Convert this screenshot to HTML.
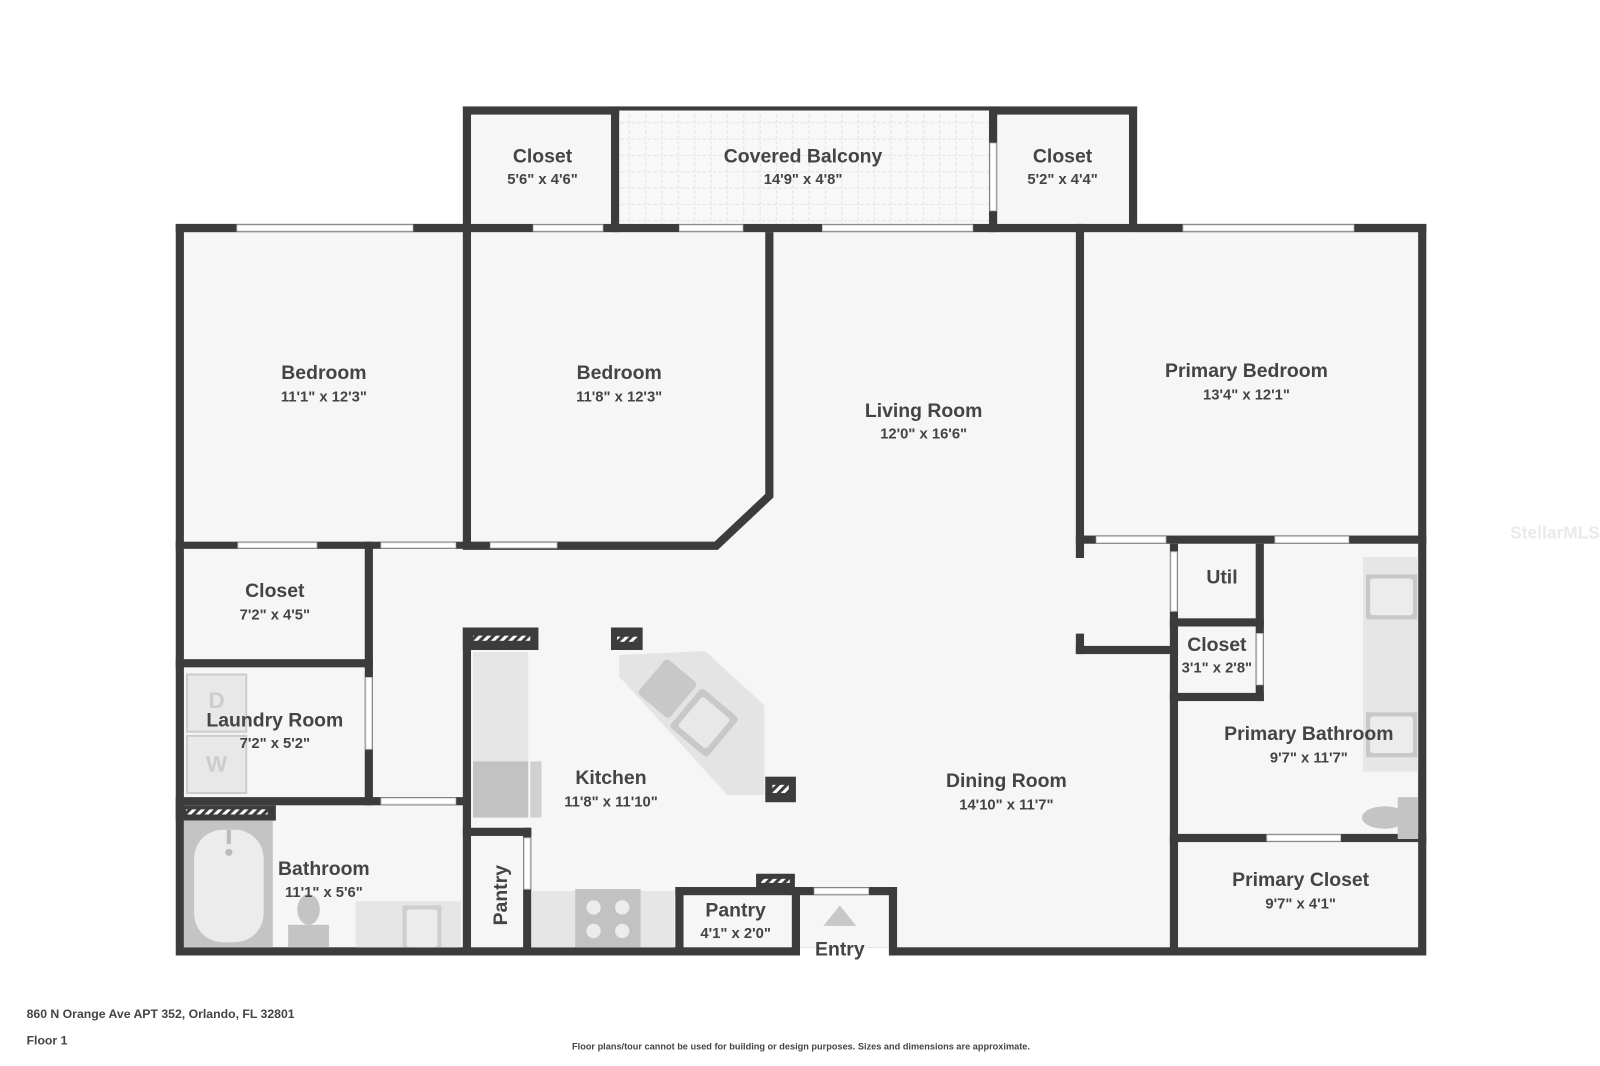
<!DOCTYPE html>
<html><head><meta charset="utf-8"><style>
html,body{margin:0;padding:0;background:#fff}
svg{display:block}
text{font-family:"Liberation Sans","DejaVu Sans",sans-serif;fill:#444;text-anchor:middle}
.l{font-size:19px;font-weight:bold}
.d{font-size:14.5px;font-weight:bold}
</style></head><body>
<svg width="1600" height="1066" viewBox="0 0 1566 1043" xmlns="http://www.w3.org/2000/svg">
<defs>
<pattern id="tile" width="16" height="16" patternUnits="userSpaceOnUse">
<rect width="16" height="16" fill="#f8f8f8"/>
<path d="M0 8H16M8 0V16" stroke="#e2e2e2" stroke-width="1" stroke-dasharray="3 2"/>
</pattern>
<pattern id="hatch" width="6" height="6" patternUnits="userSpaceOnUse" patternTransform="rotate(45)">
<rect width="6" height="6" fill="#fff"/><rect width="3" height="6" fill="#3c3c3c"/>
</pattern>
</defs>
<g fill="#3c3c3c">
<rect x="172" y="219" width="1224" height="716"/>
<rect x="453" y="104" width="660" height="123"/>
</g>
<g fill="#f6f6f6">
<rect x="180" y="227" width="1208" height="700"/>
<rect x="461" y="112" width="644" height="115"/>
</g>
<rect x="606" y="108" width="362" height="111" fill="url(#tile)"/>
<g fill="#3c3c3c">
<rect x="172" y="219" width="1224" height="8"/>
<rect x="598" y="104" width="8" height="123"/>
<rect x="968" y="104" width="8" height="123"/>
<rect x="453" y="219" width="8" height="318"/>
<rect x="172" y="530" width="289" height="7"/>
<rect x="1053" y="219" width="8" height="327"/>
<rect x="1053" y="620" width="8" height="20"/>
<rect x="1053" y="632" width="100" height="8"/>
<rect x="1053" y="524" width="343" height="8"/>
<rect x="357" y="530" width="8" height="258"/>
<rect x="172" y="645" width="193" height="8"/>
<rect x="172" y="780" width="289" height="8"/>
<rect x="172" y="788" width="98" height="15"/>
<rect x="453" y="614" width="8" height="321"/>
<rect x="453" y="614" width="74" height="22"/>
<rect x="453" y="810" width="67" height="8"/>
<rect x="512" y="810" width="8" height="125"/>
<rect x="661" y="868" width="8" height="67"/>
<rect x="661" y="868" width="217" height="8"/>
<rect x="775" y="868" width="8" height="67"/>
<rect x="870" y="868" width="8" height="67"/>
<rect x="1145" y="532" width="8" height="403"/>
<rect x="1229" y="532" width="8" height="154"/>
<rect x="1145" y="605" width="92" height="8"/>
<rect x="1145" y="678" width="92" height="8"/>
<rect x="1145" y="816" width="251" height="8"/>
<rect x="598" y="614" width="31" height="22"/>
<rect x="749" y="760" width="30" height="25"/>
<rect x="740" y="855" width="38" height="15"/>
</g>
<polyline points="753,227 753,485 701,534 453,534" fill="none" stroke="#3c3c3c" stroke-width="8"/>
<rect x="463" y="622" width="56" height="5" fill="url(#hatch)"/>
<rect x="182" y="792" width="80" height="5" fill="url(#hatch)"/>
<rect x="604" y="623" width="20" height="5" fill="url(#hatch)"/>
<rect x="756" y="768" width="16" height="8" fill="url(#hatch)"/>
<rect x="745" y="860" width="28" height="4" fill="url(#hatch)"/>
<g fill="#fff" stroke="#ccc" stroke-width="1">
<rect x="232" y="220" width="172" height="6"/>
<rect x="522" y="220" width="68" height="6"/>
<rect x="665" y="220" width="62" height="6"/>
<rect x="805" y="220" width="147" height="6"/>
<rect x="1158" y="220" width="167" height="6"/>
<rect x="969" y="140" width="6" height="66"/>
<rect x="233" y="531" width="77" height="5"/>
<rect x="373" y="531" width="73" height="5"/>
<rect x="480" y="531" width="65" height="5"/>
<rect x="1073" y="525" width="68" height="6"/>
<rect x="1248" y="525" width="72" height="6"/>
<rect x="1146" y="540" width="6" height="58"/>
<rect x="1230" y="620" width="6" height="50"/>
<rect x="1240" y="817" width="72" height="6"/>
<rect x="358" y="663" width="6" height="70"/>
<rect x="373" y="781" width="73" height="6"/>
<rect x="513" y="820" width="6" height="50"/>
<rect x="797" y="869" width="53" height="6"/>
</g>
<rect x="783" y="927" width="87" height="9" fill="#fff"/>
<rect x="463" y="638" width="54" height="107" fill="#e6e6e6"/>
<rect x="463" y="745" width="54" height="55" fill="#c2c2c2"/>
<rect x="519" y="745" width="11" height="55" fill="#d0d0d0"/>
<polygon points="606,641 690,637 748,690 748,778 712,778 606,662" fill="#e4e4e4"/>
<g transform="rotate(40 668 692)">
<rect x="625" y="665" width="40" height="45" rx="4" fill="#c8c8c8"/>
<rect x="670" y="665" width="48" height="50" rx="4" fill="#c8c8c8"/>
<rect x="676" y="671" width="36" height="38" rx="3" fill="#e8e8e8"/>
</g>
<rect x="520" y="872" width="140" height="55" fill="#e6e6e6"/>
<rect x="563" y="870" width="64" height="57" fill="#c2c2c2"/>
<g fill="#ececec"><circle cx="581" cy="888" r="7"/><circle cx="609" cy="888" r="7"/><circle cx="581" cy="911" r="7"/><circle cx="609" cy="911" r="7"/></g>
<rect x="180" y="803" width="87" height="124" fill="#c4c4c4"/>
<rect x="190" y="812" width="68" height="110" rx="28" fill="#ececec"/>
<rect x="222" y="812" width="4" height="14" fill="#bbb"/><circle cx="224" cy="834" r="3.5" fill="#bbb"/>
<ellipse cx="302" cy="890" rx="11" ry="15" fill="#c4c4c4"/>
<rect x="282" y="905" width="40" height="22" fill="#c4c4c4"/>
<rect x="348" y="882" width="103" height="45" fill="#e6e6e6"/>
<rect x="394" y="886" width="38" height="41" fill="#cfcfcf"/><rect x="398" y="890" width="30" height="37" rx="3" fill="#ececec"/>
<rect x="183" y="660" width="58" height="56" fill="#e8e8e8" stroke="#ccc" stroke-width="2"/>
<rect x="183" y="720" width="58" height="56" fill="#e8e8e8" stroke="#ccc" stroke-width="2"/>
<text x="212" y="693" style="font-size:22px;font-weight:bold;fill:#ccc">D</text>
<text x="212" y="755" style="font-size:22px;font-weight:bold;fill:#ccc">W</text>
<rect x="1334" y="545" width="54" height="210" fill="#e6e6e6"/>
<rect x="1337" y="562" width="50" height="44" fill="#c8c8c8"/><rect x="1341" y="566" width="42" height="36" rx="3" fill="#ececec"/>
<rect x="1337" y="697" width="50" height="44" fill="#c8c8c8"/><rect x="1341" y="701" width="42" height="36" rx="3" fill="#ececec"/>
<ellipse cx="1355" cy="800" rx="22" ry="11" fill="#c4c4c4"/>
<rect x="1368" y="780" width="20" height="41" fill="#c4c4c4"/>
<polygon points="822,886 806,906 838,906" fill="#c8c8c8"/>
<text class="l" x="531" y="159">Closet</text><text class="d" x="531" y="180">5'6" x 4'6"</text>
<text class="l" x="786" y="159">Covered Balcony</text><text class="d" x="786" y="180">14'9" x 4'8"</text>
<text class="l" x="1040" y="159">Closet</text><text class="d" x="1040" y="180">5'2" x 4'4"</text>
<text class="l" x="317" y="371">Bedroom</text><text class="d" x="317" y="393">11'1" x 12'3"</text>
<text class="l" x="606" y="371">Bedroom</text><text class="d" x="606" y="393">11'8" x 12'3"</text>
<text class="l" x="904" y="408">Living Room</text><text class="d" x="904" y="429">12'0" x 16'6"</text>
<text class="l" x="1220" y="369">Primary Bedroom</text><text class="d" x="1220" y="391">13'4" x 12'1"</text>
<text class="l" x="269" y="584">Closet</text><text class="d" x="269" y="606">7'2" x 4'5"</text>
<text class="l" x="269" y="711">Laundry Room</text><text class="d" x="269" y="732">7'2" x 5'2"</text>
<text class="l" x="598" y="767">Kitchen</text><text class="d" x="598" y="789">11'8" x 11'10"</text>
<text class="l" x="985" y="770">Dining Room</text><text class="d" x="985" y="792">14'10" x 11'7"</text>
<text class="l" x="1196" y="571">Util</text>
<text class="l" x="1191" y="637">Closet</text><text class="d" x="1191" y="658">3'1" x 2'8"</text>
<text class="l" x="1281" y="724">Primary Bathroom</text><text class="d" x="1281" y="746">9'7" x 11'7"</text>
<text class="l" x="317" y="856">Bathroom</text><text class="d" x="317" y="878">11'1" x 5'6"</text>
<text class="l" x="490" y="876" transform="rotate(-90 490 876)" dy="6">Pantry</text>
<text class="l" x="720" y="897">Pantry</text><text class="d" x="720" y="918">4'1" x 2'0"</text>
<text class="l" x="822" y="935">Entry</text>
<text class="l" x="1273" y="867">Primary Closet</text><text class="d" x="1273" y="889">9'7" x 4'1"</text>
<text x="1522" y="527" style="font-size:17px;font-weight:bold;fill:#eaeaea">StellarMLS</text>
<text x="26" y="996" style="font-size:12px;font-weight:bold;text-anchor:start">860 N Orange Ave APT 352, Orlando, FL 32801</text>
<text x="26" y="1022" style="font-size:12px;font-weight:bold;text-anchor:start">Floor 1</text>
<text x="784" y="1027" style="font-size:9px;font-weight:bold">Floor plans/tour cannot be used for building or design purposes. Sizes and dimensions are approximate.</text>
</svg>
</body></html>
